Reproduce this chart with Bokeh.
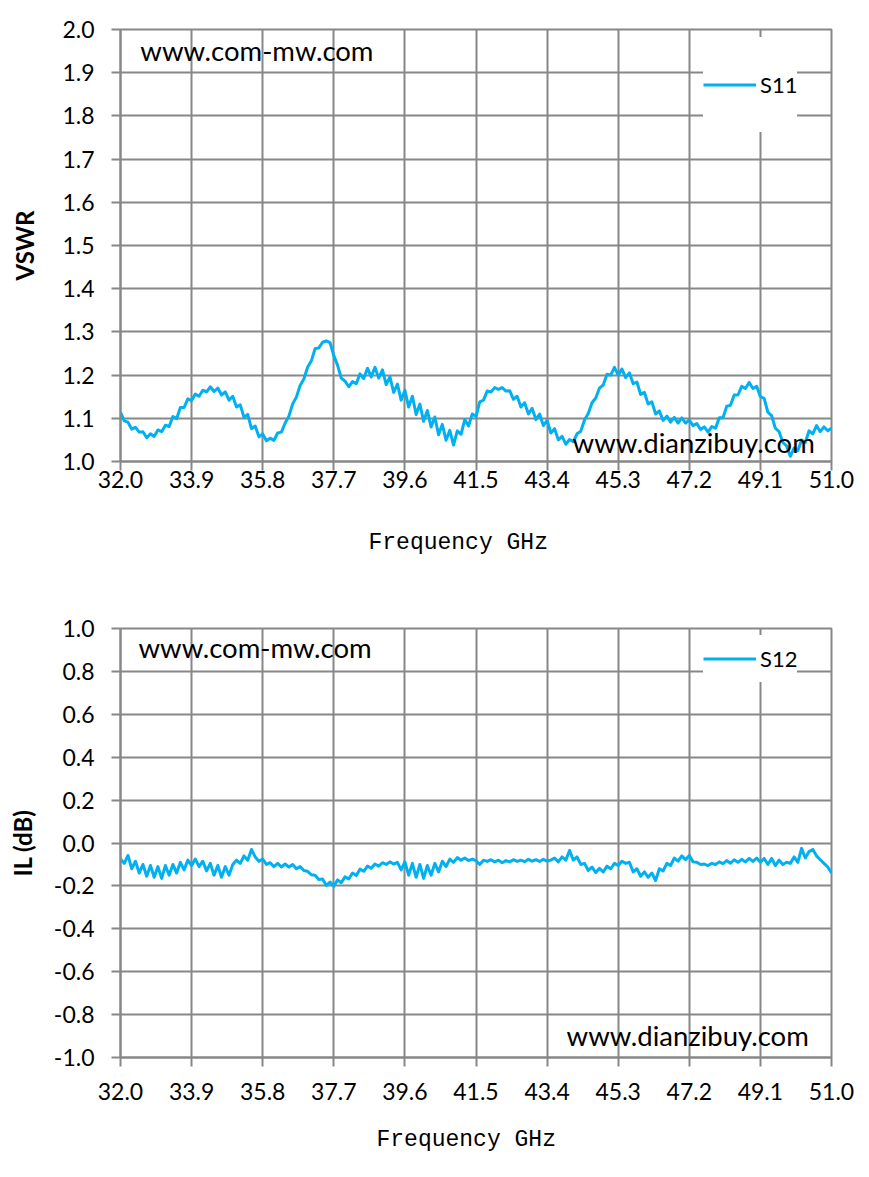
from bokeh.plotting import figure
from bokeh.layouts import column
from bokeh.models import FixedTicker, Legend, LegendItem, Label, Range1d, Title
from bokeh.embed import file_html
from bokeh.resources import INLINE

# ---------------- data ----------------
freq_start = 32.0
freq_step = 0.1
x_ticks = [32.0, 33.9, 35.8, 37.7, 39.6, 41.5, 43.4, 45.3, 47.2, 49.1, 51.0]
vswr_ticks = [1.0, 1.1, 1.2, 1.3, 1.4, 1.5, 1.6, 1.7, 1.8, 1.9, 2.0]
il_ticks = [-1.0, -0.8, -0.6, -0.4, -0.2, 0.0, 0.2, 0.4, 0.6, 0.8, 1.0]
x_title = "Frequency GHz"

s11 = [
    1.114, 1.094, 1.091, 1.075, 1.079, 1.068, 1.069, 1.055, 1.064, 1.058,
    1.073, 1.069, 1.084, 1.081, 1.104, 1.099, 1.125, 1.125, 1.145, 1.141,
    1.156, 1.151, 1.165, 1.161, 1.173, 1.162, 1.170, 1.154, 1.161, 1.142,
    1.151, 1.126, 1.131, 1.102, 1.109, 1.076, 1.082, 1.057, 1.064, 1.048,
    1.054, 1.049, 1.066, 1.068, 1.089, 1.105, 1.133, 1.149, 1.176, 1.191,
    1.218, 1.233, 1.261, 1.263, 1.276, 1.279, 1.275, 1.245, 1.223, 1.193,
    1.186, 1.173, 1.185, 1.180, 1.203, 1.192, 1.216, 1.196, 1.218, 1.193,
    1.212, 1.178, 1.196, 1.160, 1.179, 1.142, 1.165, 1.126, 1.151, 1.109,
    1.133, 1.093, 1.118, 1.080, 1.103, 1.062, 1.086, 1.049, 1.072, 1.038,
    1.071, 1.063, 1.097, 1.082, 1.110, 1.104, 1.138, 1.142, 1.163, 1.161,
    1.171, 1.167, 1.171, 1.163, 1.164, 1.144, 1.151, 1.126, 1.136, 1.110,
    1.123, 1.097, 1.110, 1.083, 1.095, 1.066, 1.076, 1.050, 1.058, 1.040,
    1.051, 1.046, 1.064, 1.070, 1.096, 1.111, 1.136, 1.147, 1.170, 1.177,
    1.202, 1.200, 1.218, 1.200, 1.214, 1.194, 1.205, 1.180, 1.184, 1.155,
    1.160, 1.133, 1.138, 1.110, 1.117, 1.095, 1.105, 1.091, 1.102, 1.089,
    1.101, 1.089, 1.096, 1.083, 1.088, 1.074, 1.080, 1.068, 1.081, 1.077,
    1.101, 1.101, 1.128, 1.130, 1.154, 1.154, 1.174, 1.169, 1.183, 1.169,
    1.174, 1.150, 1.146, 1.114, 1.106, 1.077, 1.069, 1.044, 1.036, 1.012,
    1.031, 1.025, 1.050, 1.044, 1.071, 1.064, 1.083, 1.069, 1.080, 1.071,
    1.077,
]

s12 = [
    -0.075, -0.095, -0.058, -0.120, -0.085, -0.140, -0.100, -0.155, -0.105, -0.160,
    -0.110, -0.165, -0.105, -0.150, -0.100, -0.140, -0.090, -0.125, -0.080, -0.105,
    -0.075, -0.110, -0.085, -0.130, -0.095, -0.150, -0.105, -0.160, -0.110, -0.150,
    -0.100, -0.080, -0.095, -0.060, -0.080, -0.030, -0.065, -0.085, -0.075, -0.100,
    -0.092, -0.110, -0.095, -0.112, -0.098, -0.112, -0.100, -0.120, -0.110, -0.128,
    -0.132, -0.148, -0.150, -0.170, -0.168, -0.198, -0.182, -0.202, -0.172, -0.185,
    -0.158, -0.168, -0.140, -0.152, -0.122, -0.132, -0.108, -0.118, -0.098, -0.108,
    -0.092, -0.100, -0.088, -0.098, -0.090, -0.125, -0.088, -0.150, -0.095, -0.160,
    -0.100, -0.165, -0.105, -0.150, -0.095, -0.135, -0.085, -0.110, -0.075, -0.090,
    -0.068, -0.080, -0.070, -0.082, -0.075, -0.082, -0.100, -0.080, -0.086, -0.078,
    -0.088, -0.080, -0.092, -0.082, -0.088, -0.078, -0.086, -0.080, -0.087, -0.076,
    -0.085, -0.078, -0.086, -0.076, -0.084, -0.080, -0.070, -0.088, -0.065, -0.080,
    -0.035, -0.080, -0.065, -0.100, -0.095, -0.128, -0.112, -0.138, -0.118, -0.135,
    -0.108, -0.120, -0.095, -0.105, -0.085, -0.095, -0.090, -0.135, -0.120, -0.155,
    -0.135, -0.160, -0.140, -0.175, -0.120, -0.130, -0.095, -0.105, -0.070, -0.085,
    -0.060, -0.078, -0.058, -0.088, -0.090, -0.100, -0.098, -0.105, -0.095, -0.100,
    -0.088, -0.096, -0.082, -0.094, -0.078, -0.090, -0.076, -0.088, -0.072, -0.086,
    -0.070, -0.090, -0.072, -0.100, -0.072, -0.105, -0.080, -0.100, -0.090, -0.095,
    -0.065, -0.090, -0.025, -0.070, -0.040, -0.030, -0.060, -0.078, -0.095, -0.112,
    -0.140,
]

freq = [round(freq_start + i * freq_step, 2) for i in range(len(s11))]

# ---------------- style ----------------
GRID = "#878787"
LINE = "#00B0F0"
TICK_FONT = "Lato"
MONO = "Liberation Mono"


def make_fig(height, border_top, border_bottom, yr, yticks, ylabel, ystand, xtick_stand,
             title_offset, title_standoff):
    p = figure(width=869, height=height, output_backend="svg", toolbar_location=None,
               x_range=Range1d(32.0, 51.0), y_range=Range1d(*yr),
               min_border_left=120, min_border_right=38,
               min_border_top=border_top, min_border_bottom=border_bottom)
    p.background_fill_color = "white"
    p.border_fill_color = "white"
    p.outline_line_color = GRID
    p.outline_line_width = 2
    p.xaxis.ticker = FixedTicker(ticks=x_ticks)
    p.yaxis.ticker = FixedTicker(ticks=yticks)
    p.xaxis.major_label_overrides = {t: f"{t:.1f}" for t in x_ticks}
    p.yaxis.major_label_overrides = {t: f"{t:.1f}" for t in yticks}
    for ax in (p.xaxis, p.yaxis):
        ax.axis_line_color = GRID
        ax.axis_line_width = 2
        ax.major_tick_line_color = GRID
        ax.major_tick_line_width = 2
        ax.major_tick_in = 0
        ax.major_tick_out = 9
        ax.minor_tick_line_color = None
        ax.major_label_text_font = TICK_FONT
        ax.major_label_text_font_size = "23px"
        ax.major_label_text_color = "black"
    p.yaxis.major_label_standoff = 17
    p.xaxis.major_label_standoff = xtick_stand
    p.yaxis.axis_label = ylabel
    p.yaxis.axis_label_text_font = TICK_FONT
    p.yaxis.axis_label_text_font_size = "24px"
    p.yaxis.axis_label_text_font_style = "bold"
    p.yaxis.axis_label_text_color = "black"
    p.yaxis.axis_label_standoff = ystand
    p.xgrid.ticker = FixedTicker(ticks=x_ticks)
    p.ygrid.ticker = FixedTicker(ticks=yticks)
    for g in (p.xgrid, p.ygrid):
        g.grid_line_color = GRID
        g.grid_line_width = 2
    # x-axis title, placed below the axis
    t = Title(text=x_title, align="left", offset=title_offset, standoff=title_standoff,
              text_font=MONO, text_font_size="23px", text_font_style="normal",
              text_color="black")
    p.add_layout(t, "below")
    return p


def add_legend(p, renderer, label, glyph_h, loc):
    leg = Legend(items=[LegendItem(label=label, renderers=[renderer])],
                 location=loc, padding=12, margin=0, spacing=0,
                 glyph_width=53, glyph_height=glyph_h, label_height=glyph_h,
                 label_standoff=4, border_line_color=None,
                 background_fill_color="white", background_fill_alpha=1.0,
                 label_text_font=TICK_FONT, label_text_font_size="22px",
                 label_text_color="black")
    p.add_layout(leg)


def add_text(p, x, y, txt):
    p.add_layout(Label(x=x, y=y, text=txt, text_font=TICK_FONT,
                       text_font_size="27.5px", text_color="black",
                       text_baseline="middle", text_align="left"))


# ---------------- top chart ----------------
p1 = make_fig(593, 29, 132, (1.0, 2.0), vswr_ticks, "VSWR", 20, 0, 248, 74)
r1 = p1.line(freq, s11, line_color=LINE, line_width=3, line_join="round")
add_legend(p1, r1, "S11", 95, (583, 329))
add_text(p1, 32.53, 1.951, "www.com-mw.com")
add_text(p1, 44.08, 1.044, "www.dianzibuy.com")

# ---------------- bottom chart ----------------
p2 = make_fig(582, 35, 118, (-1.0, 1.0), il_ticks, "IL (dB)", 14, 16, 256, 45)
r2 = p2.line(freq, s12, line_color=LINE, line_width=3, line_join="round")
add_legend(p2, r2, "S12", 47, (583, 375))
add_text(p2, 32.48, 0.911, "www.com-mw.com")
add_text(p2, 43.92, -0.897, "www.dianzibuy.com")

layout = column(p1, p2, spacing=0)
open("out.html", "w").write(file_html(layout, INLINE))
